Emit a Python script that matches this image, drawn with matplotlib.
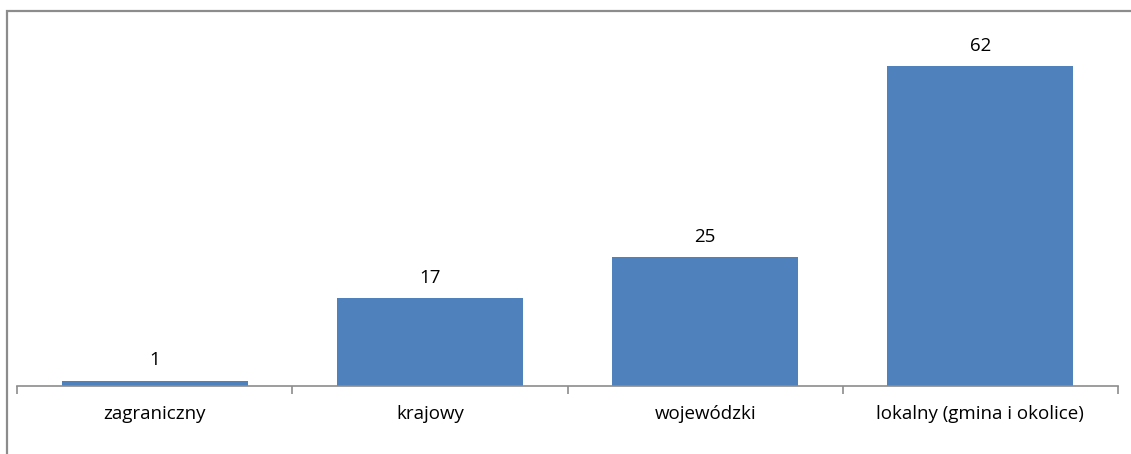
import matplotlib
matplotlib.use("Agg")
import matplotlib.pyplot as plt
from matplotlib.patches import Rectangle

categories = ["zagraniczny", "krajowy", "wojewódzki", "lokalny (gmina i okolice)"]
values = [1, 17, 25, 62]

W, H = 1131, 454
fig = plt.figure(figsize=(W / 100, H / 100), dpi=100)
plt.rcParams['font.family'] = ['Open Sans', 'DejaVu Sans']

# outer frame (only top and left visible)
fig.add_artist(Rectangle((7 / W, -0.1), 1.2, 1 - 11 / H + 0.1, transform=fig.transFigure,
                         fill=False, edgecolor="#8c8c8c", lw=1.6))

ax = fig.add_axes([17 / W, (H - 386) / H, (1118 - 17) / W, (386 - 25) / H])
x = range(len(categories))
bars = ax.bar(x, values, width=0.675, color="#4F81BD")
for b, v in zip(bars, values):
    ax.text(b.get_x() + b.get_width() / 2, v + 2.2, str(v), ha="center", va="bottom", fontsize=13.5)

ax.set_xlim(-0.5, len(categories) - 0.5)
ax.set_ylim(0, 70)
for s in ["top", "right", "left"]:
    ax.spines[s].set_visible(False)
ax.spines["bottom"].set_color("#8c8c8c")
ax.spines["bottom"].set_linewidth(1.2)
ax.set_yticks([])
ax.set_xticks([i - 0.5 for i in range(len(categories) + 1)], minor=False)
ax.set_xticklabels([])
ax.tick_params(axis="x", length=6, color="#8c8c8c", width=1.2)
ax.set_xticks(list(x), minor=True)
ax.set_xticklabels(categories, minor=True, fontsize=13.5)
ax.tick_params(axis="x", which="minor", length=0, pad=14)

fig.savefig("out.png", dpi=100)
